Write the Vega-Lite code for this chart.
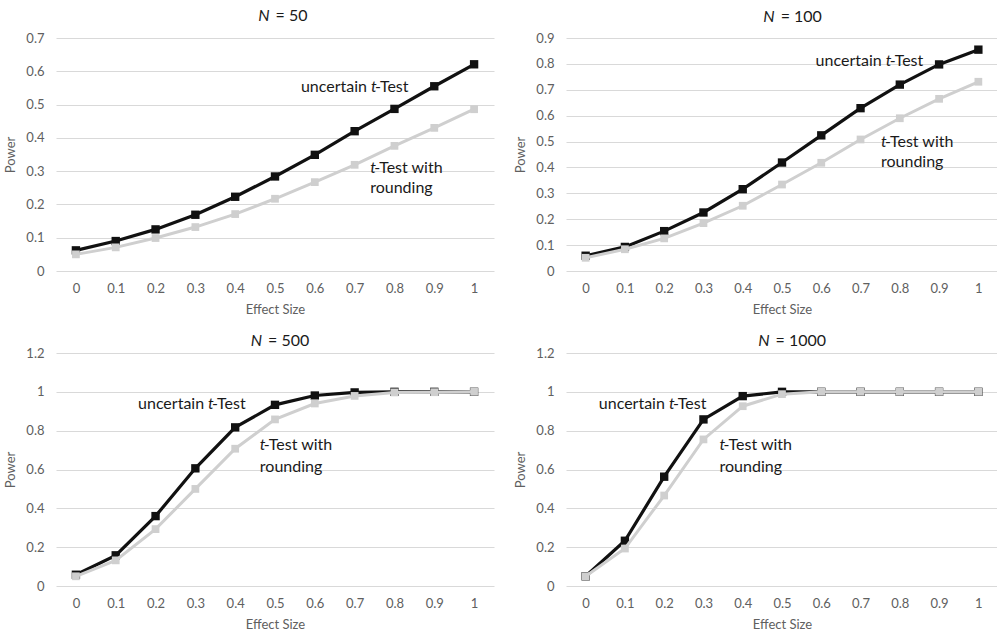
{
  "$schema": "https://vega.github.io/schema/vega-lite/v6.json",
  "padding": {"top": 8, "left": 4, "right": 0, "bottom": 0},
  "background": "white",
  "columns": 2,
  "align": "each",
  "spacing": {"row": 17, "column": 20},
  "config": {
    "view": {"stroke": null},
    "font": "Lato",
    "axis": {"labelFont": "Lato", "labelFontSize": 13, "labelColor": "#606060", "titleFont": "Lato", "titleFontSize": 13, "titleFontWeight": "normal", "titleColor": "#606060", "domain": false, "ticks": false, "gridColor": "#d9d9d9", "gridWidth": 1},
    "axisX": {"grid": false, "labelPadding": 11, "titlePadding": 8},
    "axisY": {"labelPadding": 12, "titlePadding": 8},
    "text": {"font": "Lato", "fontSize": 16, "color": "#1a1a1a", "baseline": "middle"}
  },
  "datasets": {
    "power": [
      {"N": 50, "test": "uncertain t-Test", "d": 0, "power": 0.062},
      {"N": 50, "test": "uncertain t-Test", "d": 0.1, "power": 0.09},
      {"N": 50, "test": "uncertain t-Test", "d": 0.2, "power": 0.125},
      {"N": 50, "test": "uncertain t-Test", "d": 0.3, "power": 0.169},
      {"N": 50, "test": "uncertain t-Test", "d": 0.4, "power": 0.223},
      {"N": 50, "test": "uncertain t-Test", "d": 0.5, "power": 0.284},
      {"N": 50, "test": "uncertain t-Test", "d": 0.6, "power": 0.349},
      {"N": 50, "test": "uncertain t-Test", "d": 0.7, "power": 0.42},
      {"N": 50, "test": "uncertain t-Test", "d": 0.8, "power": 0.487},
      {"N": 50, "test": "uncertain t-Test", "d": 0.9, "power": 0.555},
      {"N": 50, "test": "uncertain t-Test", "d": 1, "power": 0.621},
      {"N": 50, "test": "t-Test with rounding", "d": 0, "power": 0.05},
      {"N": 50, "test": "t-Test with rounding", "d": 0.1, "power": 0.071},
      {"N": 50, "test": "t-Test with rounding", "d": 0.2, "power": 0.099},
      {"N": 50, "test": "t-Test with rounding", "d": 0.3, "power": 0.132},
      {"N": 50, "test": "t-Test with rounding", "d": 0.4, "power": 0.171},
      {"N": 50, "test": "t-Test with rounding", "d": 0.5, "power": 0.217},
      {"N": 50, "test": "t-Test with rounding", "d": 0.6, "power": 0.267},
      {"N": 50, "test": "t-Test with rounding", "d": 0.7, "power": 0.319},
      {"N": 50, "test": "t-Test with rounding", "d": 0.8, "power": 0.376},
      {"N": 50, "test": "t-Test with rounding", "d": 0.9, "power": 0.43},
      {"N": 50, "test": "t-Test with rounding", "d": 1, "power": 0.486},
      {"N": 100, "test": "uncertain t-Test", "d": 0, "power": 0.059},
      {"N": 100, "test": "uncertain t-Test", "d": 0.1, "power": 0.093},
      {"N": 100, "test": "uncertain t-Test", "d": 0.2, "power": 0.154},
      {"N": 100, "test": "uncertain t-Test", "d": 0.3, "power": 0.226},
      {"N": 100, "test": "uncertain t-Test", "d": 0.4, "power": 0.316},
      {"N": 100, "test": "uncertain t-Test", "d": 0.5, "power": 0.419},
      {"N": 100, "test": "uncertain t-Test", "d": 0.6, "power": 0.524},
      {"N": 100, "test": "uncertain t-Test", "d": 0.7, "power": 0.629},
      {"N": 100, "test": "uncertain t-Test", "d": 0.8, "power": 0.72},
      {"N": 100, "test": "uncertain t-Test", "d": 0.9, "power": 0.798},
      {"N": 100, "test": "uncertain t-Test", "d": 1, "power": 0.855},
      {"N": 100, "test": "t-Test with rounding", "d": 0, "power": 0.051},
      {"N": 100, "test": "t-Test with rounding", "d": 0.1, "power": 0.084},
      {"N": 100, "test": "t-Test with rounding", "d": 0.2, "power": 0.126},
      {"N": 100, "test": "t-Test with rounding", "d": 0.3, "power": 0.185},
      {"N": 100, "test": "t-Test with rounding", "d": 0.4, "power": 0.252},
      {"N": 100, "test": "t-Test with rounding", "d": 0.5, "power": 0.334},
      {"N": 100, "test": "t-Test with rounding", "d": 0.6, "power": 0.418},
      {"N": 100, "test": "t-Test with rounding", "d": 0.7, "power": 0.508},
      {"N": 100, "test": "t-Test with rounding", "d": 0.8, "power": 0.59},
      {"N": 100, "test": "t-Test with rounding", "d": 0.9, "power": 0.665},
      {"N": 100, "test": "t-Test with rounding", "d": 1, "power": 0.731},
      {"N": 500, "test": "uncertain t-Test", "d": 0, "power": 0.058},
      {"N": 500, "test": "uncertain t-Test", "d": 0.1, "power": 0.158},
      {"N": 500, "test": "uncertain t-Test", "d": 0.2, "power": 0.36},
      {"N": 500, "test": "uncertain t-Test", "d": 0.3, "power": 0.606},
      {"N": 500, "test": "uncertain t-Test", "d": 0.4, "power": 0.817},
      {"N": 500, "test": "uncertain t-Test", "d": 0.5, "power": 0.933},
      {"N": 500, "test": "uncertain t-Test", "d": 0.6, "power": 0.981},
      {"N": 500, "test": "uncertain t-Test", "d": 0.7, "power": 0.997},
      {"N": 500, "test": "uncertain t-Test", "d": 0.8, "power": 1.0},
      {"N": 500, "test": "uncertain t-Test", "d": 0.9, "power": 1.0},
      {"N": 500, "test": "uncertain t-Test", "d": 1, "power": 1.0},
      {"N": 500, "test": "t-Test with rounding", "d": 0, "power": 0.05},
      {"N": 500, "test": "t-Test with rounding", "d": 0.1, "power": 0.132},
      {"N": 500, "test": "t-Test with rounding", "d": 0.2, "power": 0.293},
      {"N": 500, "test": "t-Test with rounding", "d": 0.3, "power": 0.5},
      {"N": 500, "test": "t-Test with rounding", "d": 0.4, "power": 0.707},
      {"N": 500, "test": "t-Test with rounding", "d": 0.5, "power": 0.858},
      {"N": 500, "test": "t-Test with rounding", "d": 0.6, "power": 0.94},
      {"N": 500, "test": "t-Test with rounding", "d": 0.7, "power": 0.979},
      {"N": 500, "test": "t-Test with rounding", "d": 0.8, "power": 0.997},
      {"N": 500, "test": "t-Test with rounding", "d": 0.9, "power": 0.998},
      {"N": 500, "test": "t-Test with rounding", "d": 1, "power": 1.0},
      {"N": 1000, "test": "uncertain t-Test", "d": 0, "power": 0.05},
      {"N": 1000, "test": "uncertain t-Test", "d": 0.1, "power": 0.233},
      {"N": 1000, "test": "uncertain t-Test", "d": 0.2, "power": 0.563},
      {"N": 1000, "test": "uncertain t-Test", "d": 0.3, "power": 0.858},
      {"N": 1000, "test": "uncertain t-Test", "d": 0.4, "power": 0.978},
      {"N": 1000, "test": "uncertain t-Test", "d": 0.5, "power": 1.0},
      {"N": 1000, "test": "uncertain t-Test", "d": 0.6, "power": 1.0},
      {"N": 1000, "test": "uncertain t-Test", "d": 0.7, "power": 1.0},
      {"N": 1000, "test": "uncertain t-Test", "d": 0.8, "power": 1.0},
      {"N": 1000, "test": "uncertain t-Test", "d": 0.9, "power": 1.0},
      {"N": 1000, "test": "uncertain t-Test", "d": 1, "power": 1.0},
      {"N": 1000, "test": "t-Test with rounding", "d": 0, "power": 0.05},
      {"N": 1000, "test": "t-Test with rounding", "d": 0.1, "power": 0.193},
      {"N": 1000, "test": "t-Test with rounding", "d": 0.2, "power": 0.466},
      {"N": 1000, "test": "t-Test with rounding", "d": 0.3, "power": 0.755},
      {"N": 1000, "test": "t-Test with rounding", "d": 0.4, "power": 0.926},
      {"N": 1000, "test": "t-Test with rounding", "d": 0.5, "power": 0.988},
      {"N": 1000, "test": "t-Test with rounding", "d": 0.6, "power": 1.0},
      {"N": 1000, "test": "t-Test with rounding", "d": 0.7, "power": 1.0},
      {"N": 1000, "test": "t-Test with rounding", "d": 0.8, "power": 1.0},
      {"N": 1000, "test": "t-Test with rounding", "d": 0.9, "power": 1.0},
      {"N": 1000, "test": "t-Test with rounding", "d": 1, "power": 1.0}
    ],
    "notes": [
      {"N": 50, "role": "R", "text": "uncertain", "d": 0.741, "power": 0.554},
      {"N": 50, "role": "I", "text": "t", "d": 0.741, "power": 0.554},
      {"N": 50, "role": "A", "text": "-Test", "d": 0.741, "power": 0.554},
      {"N": 50, "role": "I", "text": "t", "d": 0.739, "power": 0.309},
      {"N": 50, "role": "A", "text": "-Test with", "d": 0.739, "power": 0.309},
      {"N": 50, "role": "L", "text": "rounding", "d": 0.739, "power": 0.25},
      {"N": 50, "role": "TN", "text": "N", "d": 0.494, "power": 0.766},
      {"N": 50, "role": "TR", "text": "= 50", "d": 0.494, "power": 0.766},
      {"N": 100, "role": "R", "text": "uncertain", "d": 0.764, "power": 0.812},
      {"N": 100, "role": "I", "text": "t", "d": 0.764, "power": 0.812},
      {"N": 100, "role": "A", "text": "-Test", "d": 0.764, "power": 0.812},
      {"N": 100, "role": "I", "text": "t", "d": 0.752, "power": 0.5},
      {"N": 100, "role": "A", "text": "-Test with", "d": 0.752, "power": 0.5},
      {"N": 100, "role": "L", "text": "rounding", "d": 0.752, "power": 0.421},
      {"N": 100, "role": "TN", "text": "N", "d": 0.489, "power": 0.98},
      {"N": 100, "role": "TR", "text": "= 100", "d": 0.489, "power": 0.98},
      {"N": 500, "role": "R", "text": "uncertain", "d": 0.332, "power": 0.938},
      {"N": 500, "role": "I", "text": "t", "d": 0.332, "power": 0.938},
      {"N": 500, "role": "A", "text": "-Test", "d": 0.332, "power": 0.938},
      {"N": 500, "role": "I", "text": "t", "d": 0.462, "power": 0.724},
      {"N": 500, "role": "A", "text": "-Test with", "d": 0.462, "power": 0.724},
      {"N": 500, "role": "L", "text": "rounding", "d": 0.462, "power": 0.615},
      {"N": 500, "role": "TN", "text": "N", "d": 0.475, "power": 1.26},
      {"N": 500, "role": "TR", "text": "= 500", "d": 0.475, "power": 1.26},
      {"N": 1000, "role": "R", "text": "uncertain", "d": 0.212, "power": 0.938},
      {"N": 1000, "role": "I", "text": "t", "d": 0.212, "power": 0.938},
      {"N": 1000, "role": "A", "text": "-Test", "d": 0.212, "power": 0.938},
      {"N": 1000, "role": "I", "text": "t", "d": 0.341, "power": 0.724},
      {"N": 1000, "role": "A", "text": "-Test with", "d": 0.341, "power": 0.724},
      {"N": 1000, "role": "L", "text": "rounding", "d": 0.341, "power": 0.615},
      {"N": 1000, "role": "TN", "text": "N", "d": 0.476, "power": 1.26},
      {"N": 1000, "role": "TR", "text": "= 1000", "d": 0.476, "power": 1.26}
    ]
  },
  "concat": [
    {
      "width": 438, "height": 233,
      "encoding": {
        "x": {"field": "d", "type": "quantitative", "scale": {"domain": [-0.05, 1.05], "nice": false, "zero": false}, "axis": {"values": [0, 0.1, 0.2, 0.3, 0.4, 0.5, 0.6, 0.7, 0.8, 0.9, 1], "format": "~g", "title": "Effect Size"}},
        "y": {"field": "power", "type": "quantitative", "scale": {"domain": [0, 0.7], "nice": false}, "axis": {"values": [0, 0.1, 0.2, 0.3, 0.4, 0.5, 0.6, 0.7], "format": "~g", "title": "Power"}}
      },
      "layer": [
        {"data": {"name": "power"}, "transform": [{"filter": "datum.N == 50 && datum.test == 'uncertain t-Test'"}], "mark": {"type": "line", "color": "#111111", "strokeWidth": 3.2, "point": {"shape": "square", "size": 70, "filled": true, "color": "#111111", "opacity": 1}}},
        {"data": {"name": "power"}, "transform": [{"filter": "datum.N == 50 && datum.test == 't-Test with rounding'"}], "mark": {"type": "line", "color": "#cfcfcf", "strokeWidth": 3, "point": {"shape": "square", "size": 60, "filled": true, "color": "#cfcfcf", "opacity": 1}}},
        {"data": {"name": "notes"}, "transform": [{"filter": "datum.N == 50 && datum.role == 'R'"}], "mark": {"type": "text", "align": "right", "dx": -4}, "encoding": {"text": {"field": "text"}}},
        {"data": {"name": "notes"}, "transform": [{"filter": "datum.N == 50 && datum.role == 'I'"}], "mark": {"type": "text", "align": "left", "fontStyle": "italic"}, "encoding": {"text": {"field": "text"}}},
        {"data": {"name": "notes"}, "transform": [{"filter": "datum.N == 50 && datum.role == 'A'"}], "mark": {"type": "text", "align": "left", "dx": 4}, "encoding": {"text": {"field": "text"}}},
        {"data": {"name": "notes"}, "transform": [{"filter": "datum.N == 50 && datum.role == 'L'"}], "mark": {"type": "text", "align": "left"}, "encoding": {"text": {"field": "text"}}},
        {"data": {"name": "notes"}, "transform": [{"filter": "datum.N == 50 && datum.role == 'TN'"}], "mark": {"type": "text", "align": "right", "fontStyle": "italic", "fontSize": 16, "dx": -3}, "encoding": {"text": {"field": "text"}}},
        {"data": {"name": "notes"}, "transform": [{"filter": "datum.N == 50 && datum.role == 'TR'"}], "mark": {"type": "text", "align": "left", "fontSize": 16, "dx": 3}, "encoding": {"text": {"field": "text"}}}
      ]
    },
    {
      "width": 432, "height": 233,
      "encoding": {
        "x": {"field": "d", "type": "quantitative", "scale": {"domain": [-0.05, 1.05], "nice": false, "zero": false}, "axis": {"values": [0, 0.1, 0.2, 0.3, 0.4, 0.5, 0.6, 0.7, 0.8, 0.9, 1], "format": "~g", "title": "Effect Size"}},
        "y": {"field": "power", "type": "quantitative", "scale": {"domain": [0, 0.9], "nice": false}, "axis": {"values": [0, 0.1, 0.2, 0.3, 0.4, 0.5, 0.6, 0.7, 0.8, 0.9], "format": "~g", "title": "Power"}}
      },
      "layer": [
        {"data": {"name": "power"}, "transform": [{"filter": "datum.N == 100 && datum.test == 'uncertain t-Test'"}], "mark": {"type": "line", "color": "#111111", "strokeWidth": 3.2, "point": {"shape": "square", "size": 70, "filled": true, "color": "#111111", "opacity": 1}}},
        {"data": {"name": "power"}, "transform": [{"filter": "datum.N == 100 && datum.test == 't-Test with rounding'"}], "mark": {"type": "line", "color": "#cfcfcf", "strokeWidth": 3, "point": {"shape": "square", "size": 60, "filled": true, "color": "#cfcfcf", "opacity": 1}}},
        {"data": {"name": "notes"}, "transform": [{"filter": "datum.N == 100 && datum.role == 'R'"}], "mark": {"type": "text", "align": "right", "dx": -4}, "encoding": {"text": {"field": "text"}}},
        {"data": {"name": "notes"}, "transform": [{"filter": "datum.N == 100 && datum.role == 'I'"}], "mark": {"type": "text", "align": "left", "fontStyle": "italic"}, "encoding": {"text": {"field": "text"}}},
        {"data": {"name": "notes"}, "transform": [{"filter": "datum.N == 100 && datum.role == 'A'"}], "mark": {"type": "text", "align": "left", "dx": 4}, "encoding": {"text": {"field": "text"}}},
        {"data": {"name": "notes"}, "transform": [{"filter": "datum.N == 100 && datum.role == 'L'"}], "mark": {"type": "text", "align": "left"}, "encoding": {"text": {"field": "text"}}},
        {"data": {"name": "notes"}, "transform": [{"filter": "datum.N == 100 && datum.role == 'TN'"}], "mark": {"type": "text", "align": "right", "fontStyle": "italic", "fontSize": 16, "dx": -3}, "encoding": {"text": {"field": "text"}}},
        {"data": {"name": "notes"}, "transform": [{"filter": "datum.N == 100 && datum.role == 'TR'"}], "mark": {"type": "text", "align": "left", "fontSize": 16, "dx": 3}, "encoding": {"text": {"field": "text"}}}
      ]
    },
    {
      "width": 438, "height": 233,
      "encoding": {
        "x": {"field": "d", "type": "quantitative", "scale": {"domain": [-0.05, 1.05], "nice": false, "zero": false}, "axis": {"values": [0, 0.1, 0.2, 0.3, 0.4, 0.5, 0.6, 0.7, 0.8, 0.9, 1], "format": "~g", "title": "Effect Size"}},
        "y": {"field": "power", "type": "quantitative", "scale": {"domain": [0, 1.2], "nice": false}, "axis": {"values": [0, 0.2, 0.4, 0.6, 0.8, 1, 1.2], "format": "~g", "title": "Power"}}
      },
      "layer": [
        {"data": {"name": "power"}, "transform": [{"filter": "datum.N == 500 && datum.test == 'uncertain t-Test'"}], "mark": {"type": "line", "color": "#111111", "strokeWidth": 3.2, "point": {"shape": "square", "size": 70, "filled": true, "color": "#111111", "opacity": 1}}},
        {"data": {"name": "power"}, "transform": [{"filter": "datum.N == 500 && datum.test == 't-Test with rounding'"}], "mark": {"type": "line", "color": "#cfcfcf", "strokeWidth": 3, "point": {"shape": "square", "size": 60, "filled": true, "color": "#cfcfcf", "opacity": 1}}},
        {"data": {"name": "notes"}, "transform": [{"filter": "datum.N == 500 && datum.role == 'R'"}], "mark": {"type": "text", "align": "right", "dx": -4}, "encoding": {"text": {"field": "text"}}},
        {"data": {"name": "notes"}, "transform": [{"filter": "datum.N == 500 && datum.role == 'I'"}], "mark": {"type": "text", "align": "left", "fontStyle": "italic"}, "encoding": {"text": {"field": "text"}}},
        {"data": {"name": "notes"}, "transform": [{"filter": "datum.N == 500 && datum.role == 'A'"}], "mark": {"type": "text", "align": "left", "dx": 4}, "encoding": {"text": {"field": "text"}}},
        {"data": {"name": "notes"}, "transform": [{"filter": "datum.N == 500 && datum.role == 'L'"}], "mark": {"type": "text", "align": "left"}, "encoding": {"text": {"field": "text"}}},
        {"data": {"name": "notes"}, "transform": [{"filter": "datum.N == 500 && datum.role == 'TN'"}], "mark": {"type": "text", "align": "right", "fontStyle": "italic", "fontSize": 16, "dx": -3}, "encoding": {"text": {"field": "text"}}},
        {"data": {"name": "notes"}, "transform": [{"filter": "datum.N == 500 && datum.role == 'TR'"}], "mark": {"type": "text", "align": "left", "fontSize": 16, "dx": 3}, "encoding": {"text": {"field": "text"}}}
      ]
    },
    {
      "width": 432, "height": 233,
      "encoding": {
        "x": {"field": "d", "type": "quantitative", "scale": {"domain": [-0.05, 1.05], "nice": false, "zero": false}, "axis": {"values": [0, 0.1, 0.2, 0.3, 0.4, 0.5, 0.6, 0.7, 0.8, 0.9, 1], "format": "~g", "title": "Effect Size"}},
        "y": {"field": "power", "type": "quantitative", "scale": {"domain": [0, 1.2], "nice": false}, "axis": {"values": [0, 0.2, 0.4, 0.6, 0.8, 1, 1.2], "format": "~g", "title": "Power"}}
      },
      "layer": [
        {"data": {"name": "power"}, "transform": [{"filter": "datum.N == 1000 && datum.test == 'uncertain t-Test'"}], "mark": {"type": "line", "color": "#111111", "strokeWidth": 3.2, "point": {"shape": "square", "size": 70, "filled": true, "color": "#111111", "opacity": 1}}},
        {"data": {"name": "power"}, "transform": [{"filter": "datum.N == 1000 && datum.test == 't-Test with rounding'"}], "mark": {"type": "line", "color": "#cfcfcf", "strokeWidth": 3, "point": {"shape": "square", "size": 60, "filled": true, "color": "#cfcfcf", "opacity": 1}}},
        {"data": {"name": "notes"}, "transform": [{"filter": "datum.N == 1000 && datum.role == 'R'"}], "mark": {"type": "text", "align": "right", "dx": -4}, "encoding": {"text": {"field": "text"}}},
        {"data": {"name": "notes"}, "transform": [{"filter": "datum.N == 1000 && datum.role == 'I'"}], "mark": {"type": "text", "align": "left", "fontStyle": "italic"}, "encoding": {"text": {"field": "text"}}},
        {"data": {"name": "notes"}, "transform": [{"filter": "datum.N == 1000 && datum.role == 'A'"}], "mark": {"type": "text", "align": "left", "dx": 4}, "encoding": {"text": {"field": "text"}}},
        {"data": {"name": "notes"}, "transform": [{"filter": "datum.N == 1000 && datum.role == 'L'"}], "mark": {"type": "text", "align": "left"}, "encoding": {"text": {"field": "text"}}},
        {"data": {"name": "notes"}, "transform": [{"filter": "datum.N == 1000 && datum.role == 'TN'"}], "mark": {"type": "text", "align": "right", "fontStyle": "italic", "fontSize": 16, "dx": -3}, "encoding": {"text": {"field": "text"}}},
        {"data": {"name": "notes"}, "transform": [{"filter": "datum.N == 1000 && datum.role == 'TR'"}], "mark": {"type": "text", "align": "left", "fontSize": 16, "dx": 3}, "encoding": {"text": {"field": "text"}}}
      ]
    }
  ]
}
